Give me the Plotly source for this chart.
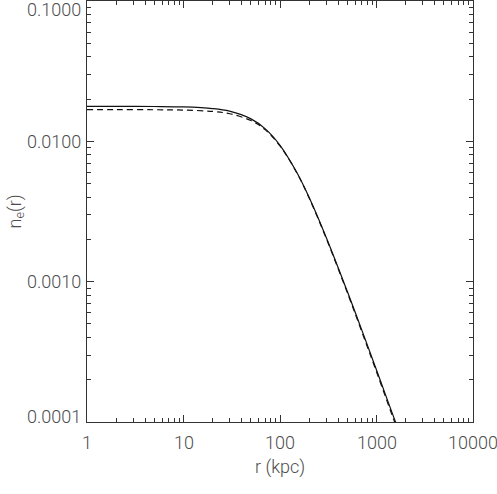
import plotly.graph_objects as go
import math

# radius (kpc)
r_kpc = [1, 2, 5, 10, 20, 30, 50, 70, 100, 150, 200, 300, 500, 700, 1000, 1600, 1800]
# electron density, solid curve
ne_solid = [0.01775, 0.01775, 0.01771, 0.01759, 0.01713, 0.01641, 0.01446, 0.01232,
            0.00937, 0.00597, 0.003996, 0.002084, 0.000847, 0.000457, 0.000235,
            0.0000973, 0.0000800]
# electron density, dashed curve
ne_dashed = [0.01682, 0.01682, 0.01679, 0.01670, 0.01633, 0.01573, 0.01407, 0.01212,
             0.00928, 0.00593, 0.00396, 0.00205, 0.000830, 0.000445, 0.000228,
             0.0000935, 0.0000770]

x_tickvals = [1, 10, 100, 1000, 10000]
x_ticktext = ["1", "10", "100", "1000", "10000"]
y_tickvals = [0.1, 0.01, 0.001, 0.0001]
y_ticktext = ["0.1000", "0.0100", "0.0010", "0.0001"]
y_label_shift = [-8, 0, 0, 6]

FONT = "Roboto, Liberation Sans, sans-serif"
TXT = "#4d4d4d"
AX = "#333333"
tfont = dict(family=FONT, size=18, color=TXT, weight=300)

x_minor = [m * 10 ** d for d in range(0, 4) for m in range(2, 10)]
y_minor = [m * 10 ** d for d in range(-4, -1) for m in range(2, 10)]

fig = go.Figure()
fig.add_trace(go.Scatter(x=r_kpc, y=ne_solid, mode="lines", line=dict(color="#111", width=1.2, shape="spline"), showlegend=False))
fig.add_trace(go.Scatter(x=r_kpc, y=ne_dashed, mode="lines", line=dict(color="#111", width=1.2, dash="6px,4px", shape="spline"), showlegend=False))

fig.update_xaxes(type="log", range=[0, 4], showgrid=False, zeroline=False,
                 showline=True, linecolor=AX, linewidth=1, mirror="ticks",
                 ticks="inside", ticklen=7, tickcolor=AX, tickwidth=1,
                 tickvals=x_tickvals, showticklabels=False,
                 minor=dict(tickvals=x_minor, ticks="inside", ticklen=4, tickcolor=AX, showgrid=False))
fig.update_yaxes(type="log", range=[-4, -1], showgrid=False, zeroline=False,
                 showline=True, linecolor=AX, linewidth=1, mirror="ticks",
                 ticks="inside", ticklen=7, tickcolor=AX, tickwidth=1,
                 tickvals=y_tickvals, showticklabels=False,
                 minor=dict(tickvals=y_minor, ticks="inside", ticklen=4, tickcolor=AX, showgrid=False))

for v, t in zip(x_tickvals, x_ticktext):
    fig.add_annotation(x=math.log10(v), xref="x", y=0, yref="paper", text=t, showarrow=False,
                       xanchor="center", yanchor="middle", yshift=-20, font=tfont)

for v, t, s in zip(y_tickvals, y_ticktext, y_label_shift):
    fig.add_annotation(x=0, xref="paper", y=math.log10(v), yref="y", text=t, showarrow=False,
                       xanchor="right", yanchor="middle", xshift=-4, yshift=s,
                       font=tfont)

fig.add_annotation(x=0.5, xref="paper", y=0, yref="paper", text="r (kpc)",
                   showarrow=False, xanchor="center", yanchor="middle", yshift=-45, font=tfont)
fig.add_annotation(x=-(87 - 15) / (473 - 87), xref="paper", y=0.5, yref="paper", text="n<sub>e</sub>(r)",
                   showarrow=False, textangle=-90, xanchor="center", yanchor="middle",
                   font=tfont)

fig.update_layout(width=497, height=494, margin=dict(l=87, r=24, t=1, b=72),
                  paper_bgcolor="white", plot_bgcolor="white")
fig.write_html("out.html", config={"displayModeBar": False},
               post_script="document.body.style.margin='0';document.body.style.padding='0';")
